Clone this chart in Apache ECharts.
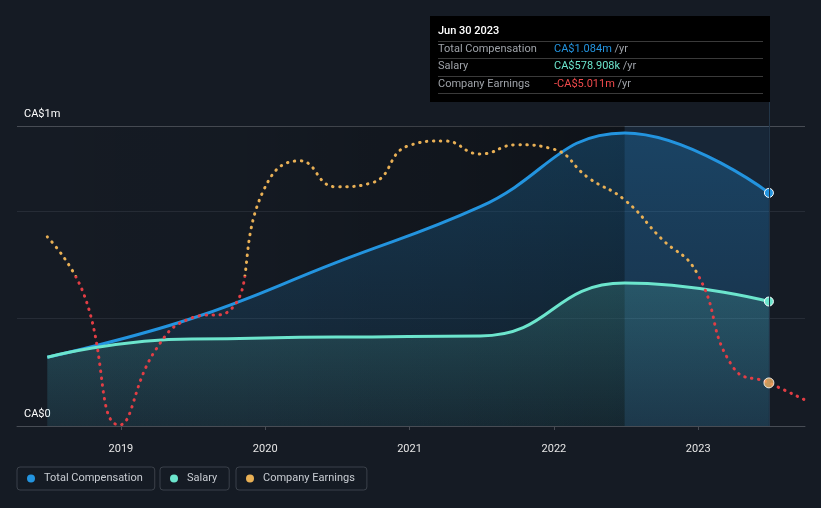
<!DOCTYPE html>
<html>
<head>
<meta charset="utf-8">
<script src="https://cdn.jsdelivr.net/npm/echarts@6/dist/echarts.min.js"></script>
<style>
html,body{margin:0;padding:0;background:#151b24;}
#chart{width:821px;height:508px;}
</style>
</head>
<body>
<div id="chart"></div>
<script>
// ---- data (decimal years; compensation in CA$ millions; earnings in CA$ millions) ----
const yearTicks = [2019, 2020, 2021, 2022, 2023];
const compDates = [2018.49, 2019.49, 2020.49, 2021.49, 2022.49, 2023.49];
const totalComp = [0.32, 0.50, 0.76, 1.02, 1.363, 1.084];
const salary = [0.32, 0.405, 0.414, 0.419, 0.665, 0.578908];
const earnDates = [2018.49, 2018.74, 2018.99, 2019.24, 2019.49, 2019.74, 2019.99, 2020.24, 2020.49, 2020.74,
                   2020.99, 2021.24, 2021.49, 2021.74, 2021.99, 2022.24, 2022.49, 2022.74, 2022.99, 2023.24,
                   2023.49, 2023.74];
const earnings = [1.83, -0.80, -6.98, -3.47, -1.97, -1.69, 4.03, 5.39, 4.17, 4.36,
                  6.09, 6.32, 5.71, 6.14, 5.95, 4.59, 3.56, 1.78, 0.15, -4.26,
                  -5.011, -5.81];
const tooltipDate = 'Jun 30 2023';

const C_BLUE = '#2394df', C_TEAL = '#6ce5cd', C_ORANGE = '#e9b055', C_RED = '#e23d44';
const FONT = 'Roboto';
const FS = 11;
const Y_MAX = 1.395;

const last = compDates.length - 1;
const pair = (xs, ys) => xs.map((x, i) => [x, ys[i]]);
const withEnd = (arr) => arr.map((p, i) => i === arr.length - 1 ? {value: p, symbol: 'circle', symbolSize: 9} : p);

const tcData = withEnd(pair(compDates, totalComp));
const salData = withEnd(pair(compDates, salary));
const earnData = pair(earnDates, earnings);
const endIdx = earnDates.indexOf(compDates[last]);

const fmtM = v => 'CA$' + Math.abs(v).toFixed(3) + 'm';
const fmtK = v => 'CA$' + (v * 1000).toFixed(3) + 'k';

const chart = echarts.init(document.getElementById('chart'), null, {renderer: 'canvas'});

const legendCommon = {
  top: 467, icon: 'circle', itemWidth: 8, itemHeight: 8,
  padding: [6, 12, 6, 10], borderColor: '#3b414a', borderWidth: 1, borderRadius: 3,
  textStyle: {color: '#c8ccd2', fontSize: FS, fontFamily: FONT, padding: [0, 0, 0, 4]},
  selectedMode: false
};
const legItem = (name, color) => ({name: name, itemStyle: {color: color, borderWidth: 0}});

const tipX = 430, tipY = 16, tipH = 86;
const GREY = '#9ea2a8';
const row = (label, valText, valColor, y) => ([
  {type: 'text', x: tipX + 8, y: y, style: {text: label, fill: GREY, font: FS + 'px ' + FONT, verticalAlign: 'middle'}, z: 100},
  {type: 'text', x: tipX + 124, y: y, style: {
      text: '{v|' + valText + '} {u|/yr}', verticalAlign: 'middle', font: FS + 'px ' + FONT,
      rich: {v: {fill: valColor, font: FS + 'px ' + FONT}, u: {fill: GREY, font: FS + 'px ' + FONT}}}, z: 100}
]);
const sep = y => ({type: 'line', shape: {x1: tipX + 8, y1: y, x2: tipX + 333, y2: y}, style: {stroke: '#3a3a3a', lineWidth: 1}, z: 100});

const option = {
  backgroundColor: '#151b24',
  animation: false,
  textStyle: {fontFamily: FONT},
  grid: {left: 17, right: 16, top: 126, bottom: 82},
  xAxis: {
    type: 'value', min: 2018.28, max: 2023.74,
    axisLine: {show: true, lineStyle: {color: '#474c54'}},
    axisTick: {show: true, customValues: yearTicks, length: 4, lineStyle: {color: '#474c54'}},
    axisLabel: {customValues: yearTicks, formatter: v => String(Math.round(v)), color: '#e6e6e6', fontSize: FS, margin: 18, fontFamily: FONT},
    splitLine: {show: false}
  },
  yAxis: [{
    type: 'value', min: 0, max: Y_MAX, interval: 0.5,
    axisLine: {show: false}, axisTick: {show: false},
    axisLabel: {
      inside: true, margin: 7, verticalAlign: 'bottom', padding: [0, 0, 6, 0],
      color: '#ffffff', fontSize: FS, fontFamily: FONT, showMinLabel: true, showMaxLabel: true,
      formatter: v => v === 0 ? 'CA$0' : (v > 1.3 ? 'CA$1m' : '')
    },
    splitLine: {show: true, lineStyle: {color: ['#474c54', '#262c36', '#262c36', '#474c54'], width: 1}}
  }, {
    type: 'value', min: -7.03, max: 7.02, show: false
  }],
  visualMap: {
    show: false, type: 'piecewise', seriesIndex: 2, dimension: 1,
    pieces: [{min: -100, max: 0, color: C_RED}, {min: 0, max: 100, color: C_ORANGE}]
  },
  legend: [
    Object.assign({left: 17, data: [legItem('Total Compensation', C_BLUE)]}, legendCommon),
    Object.assign({left: 160, data: [legItem('Salary', C_TEAL)]}, legendCommon),
    Object.assign({left: 236, data: [legItem('Company Earnings', C_ORANGE)]}, legendCommon)
  ],
  series: [
    {
      name: 'Total Compensation', type: 'line', data: tcData, smooth: 0.45, z: 3,
      symbol: 'none', showSymbol: true,
      lineStyle: {color: C_BLUE, width: 3},
      itemStyle: {color: C_BLUE, borderColor: '#ffffff', borderWidth: 1},
      areaStyle: {color: new echarts.graphic.LinearGradient(0, 0, 0, 1, [
        {offset: 0, color: 'rgba(35,148,223,0.38)'}, {offset: 1, color: 'rgba(35,148,223,0.10)'}])},
      markArea: {
        silent: true,
        data: [
          [{xAxis: 2018.28, itemStyle: {color: new echarts.graphic.LinearGradient(0, 0, 1, 0, [
              {offset: 0, color: 'rgba(0,0,0,0)'}, {offset: 0.4, color: 'rgba(0,0,0,0.06)'}, {offset: 1, color: 'rgba(0,0,0,0.32)'}])}},
           {xAxis: compDates[last - 1]}],
          [{xAxis: compDates[last - 1], itemStyle: {color: 'rgba(45,150,250,0.09)'}}, {xAxis: compDates[last]}]
        ]
      },
      markLine: {
        silent: true, symbol: ['none', 'none'], label: {show: false},
        lineStyle: {color: '#223547', type: 'solid', width: 1},
        data: [[{xAxis: compDates[last], yAxis: 0}, {xAxis: compDates[last], yAxis: Y_MAX}]]
      }
    },
    {
      name: 'Salary', type: 'line', data: salData, smooth: 0.5, smoothMonotone: 'x', z: 4,
      symbol: 'none', showSymbol: true,
      lineStyle: {color: C_TEAL, width: 3},
      itemStyle: {color: C_TEAL, borderColor: '#ffffff', borderWidth: 1},
      areaStyle: {color: new echarts.graphic.LinearGradient(0, 0, 0, 1, [
        {offset: 0, color: 'rgba(108,229,205,0.25)'}, {offset: 1, color: 'rgba(108,229,205,0.08)'}])}
    },
    {
      name: 'Company Earnings', type: 'line', data: earnData, yAxisIndex: 1, smooth: 0.5, z: 5,
      symbol: 'none', showSymbol: false,
      itemStyle: {color: C_ORANGE},
      lineStyle: {width: 3, type: [0.5, 6.5], cap: 'round'}
    },
    {
      name: 'Company Earnings end', type: 'scatter', yAxisIndex: 1, z: 6,
      data: [earnData[endIdx]], symbolSize: 10,
      itemStyle: {color: '#f0b060', borderColor: '#ffffff', borderWidth: 1}
    }
  ],
  graphic: [
    {id: 'tipbg', type: 'rect', shape: {x: tipX, y: tipY, width: 340, height: tipH}, style: {fill: '#000000'}, z: 99},
    {type: 'text', x: tipX + 8, y: tipY + 15, style: {text: tooltipDate, fill: '#ffffff', font: '500 ' + FS + 'px ' + FONT, verticalAlign: 'middle'}, z: 100},
    sep(tipY + 25.5), sep(tipY + 42.5), sep(tipY + 60.5), sep(tipY + 77.5),
    ...row('Total Compensation', fmtM(totalComp[last]), C_BLUE, tipY + 33.5),
    ...row('Salary', fmtK(salary[last]), C_TEAL, tipY + 50.5),
    ...row('Company Earnings', (earnings[endIdx] < 0 ? '-' : '') + fmtM(earnings[endIdx]), '#f04a4c', tipY + 68)
  ]
};
chart.setOption(option);

// crosshair continuation from the tooltip box down to the plot top, positioned through the axis scales
const px = chart.convertToPixel({xAxisIndex: 0}, compDates[last]);
const pyTop = chart.convertToPixel({yAxisIndex: 0}, Y_MAX);
chart.setOption({graphic: [{id: 'xhair', type: 'line', shape: {x1: Math.round(px) + 0.5, y1: tipY + tipH, x2: Math.round(px) + 0.5, y2: pyTop}, style: {stroke: '#223547', lineWidth: 1}, z: 50}]});
</script>
</body>
</html>
